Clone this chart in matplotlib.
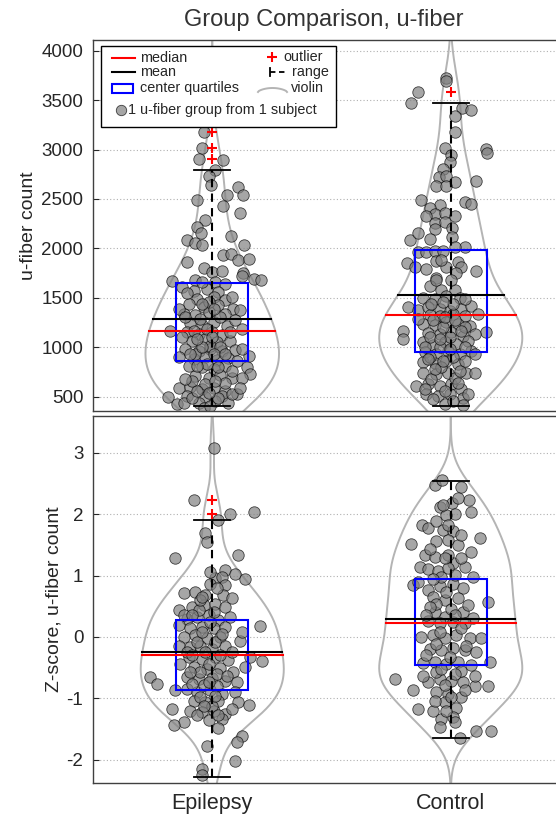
import numpy as np
import matplotlib.pyplot as plt
from matplotlib.patches import Rectangle
from matplotlib.lines import Line2D

plt.rcParams['font.family'] = ['Liberation Sans', 'DejaVu Sans']
plt.rcParams['axes.unicode_minus'] = False

groups = ['Epilepsy', 'Control']

# u-fiber counts, one value per subject, with the horizontal jitter seen in the plot
count_epilepsy = [3179, 3019, 2900, 2893, 2798, 2731, 2646, 2622, 2544, 2544, 2493, 2425, 2357, 2290,
                  2215, 2154, 2127, 2086, 2052, 2035, 2035, 1933, 1944, 1865, 1882, 1889, 1798, 1764,
                  1774, 1747, 1672, 1679, 1662, 1645, 1696, 1679, 1720, 1611, 1570, 1594, 1560, 1492,
                  1509, 1475, 1441, 1407, 1424, 1390, 1339, 1323, 1356, 1339, 1373, 1244, 1231, 1255,
                  1221, 1170, 1153, 1136, 1153, 1129, 1187, 1068, 1085, 1051, 1068, 983, 966, 983, 959,
                  973, 915, 881, 898, 871, 891, 814, 797, 780, 814, 797, 729, 712, 695, 722, 695, 593,
                  600, 576, 593, 559, 525, 508, 498, 508, 498, 430, 440, 457, 389, 440, 1289, 1306, 1390,
                  1458, 1509, 1550, 1662, 1187, 1153, 1102, 1017, 932, 1000, 983, 898, 831, 864, 661,
                  644, 695, 627, 1306, 1390, 1272, 1170,
                  440, 491, 406, 491, 525, 593, 559, 542, 678, 661, 763, 814, 797, 932, 932, 1000, 932,
                  1085, 1102, 1441]
count_epilepsy_jitter = [-0.036, -0.043, -0.054, 0.047, 0.013, -0.015, -0.004, 0.11, 0.13, 0.06, -0.064,
                         0.043, 0.117, -0.03, -0.064, -0.046, 0.08, -0.106, -0.074, -0.043, 0.135, 0.047,
                         0.08, -0.106, 0.11, 0.152, -0.036, 0.0, 0.04, 0.127, -0.169, -0.071, 0.013, 0.052,
                         0.173, 0.205, 0.124, -0.127, -0.078, -0.022, 0.026, -0.064, 0.006, 0.054, -0.099,
                         -0.036, 0.026, 0.089, -0.12, -0.071, -0.015, 0.054, 0.117, -0.092, -0.043, 0.006,
                         0.061, -0.176, -0.106, -0.057, -0.001, 0.04, 0.124, -0.085, -0.029, 0.02, 0.075,
                         -0.113, -0.057, -0.008, 0.04, 0.096, 0.152, -0.078, -0.029, 0.02, 0.068, -0.099,
                         -0.043, 0.006, 0.054, 0.145, 0.159, -0.071, -0.015, 0.033, 0.082, -0.141, -0.092,
                         -0.043, 0.006, 0.054, 0.103, -0.106, -0.029, 0.04, -0.185, -0.148, -0.057, 0.013,
                         -0.036, 0.068, -0.05, 0.033, -0.141, -0.015, 0.082, -0.106, -0.043, -0.022, 0.075,
                         -0.127, -0.008, -0.071, 0.033, 0.124, -0.141, -0.022, 0.103, -0.085, 0.054, 0.124,
                         -0.029, -0.113, 0.006, 0.096, -0.078,
                         -0.12, -0.085, -0.008, 0.026, 0.082, 0.117, -0.064, -0.015, -0.113, 0.013, 0.082,
                         -0.064, 0.026, -0.092, 0.006, -0.043, 0.054, -0.064, -0.001, -0.043]

count_control = [3722, 3688, 3579, 3471, 3416, 3399, 3335, 3179, 3002, 2968, 3019, 2941, 2873, 2806, 2724,
                 2731, 2670, 2680, 2629, 2629, 2487, 2466, 2453, 2442, 2409, 2351, 2358, 2324, 2324, 2256,
                 2263, 2205, 2195, 2113, 2086, 2154, 2018, 2012, 1967, 1967, 1978, 1978, 1855, 1808, 1876,
                 1788, 1815, 1866, 1815, 1747, 1774, 1706, 1618, 1584, 1584, 1503, 1492, 1516, 1503, 1408,
                 1380, 1408, 1391, 1367, 1391, 1421, 1323, 1313, 1333, 1320, 1333, 1238, 1231, 1255, 1238,
                 1221, 1170, 1085, 1153, 1143, 1136, 1153, 1119, 1136, 1051, 1027, 1051, 1034, 1061, 949,
                 932, 960, 932, 966, 848, 838, 858, 831, 746, 746, 746, 729, 746, 610, 627, 610, 634, 576,
                 525, 508, 532, 491, 424, 417, 1442, 1442, 1204, 1204, 1102, 1102, 1000, 1000, 898, 898,
                 797, 695, 678, 1306, 1289, 1679, 1679, 1883, 2093,
                 475, 457, 576, 559, 644, 780, 763, 882, 865, 865, 983, 1000, 1085, 1170, 1272, 1272,
                 1459, 1492, 932, 525]
count_control_jitter = [-0.018, -0.018, -0.137, -0.165, 0.047, 0.086, 0.017, 0.017, 0.149, 0.153, -0.025,
                        0.003, -0.004, -0.032, -0.05, -0.018, 0.017, 0.107, -0.06, -0.018, -0.126, 0.059,
                        0.086, -0.046, -0.088, -0.067, -0.025, 0.017, -0.102, -0.067, -0.025, 0.006, -0.067,
                        0.006, -0.172, -0.139, 0.059, 0.019, -0.137, -0.102, -0.067, -0.032, -0.185, -0.151,
                        -0.06, -0.102, -0.018, 0.031, 0.045, 0.024, 0.107, -0.06, -0.088, -0.039, 0.017,
                        -0.116, -0.067, -0.018, 0.038, -0.179, -0.137, -0.095, -0.046, -0.004, 0.045, 0.086,
                        -0.088, -0.046, 0.01, 0.059, 0.114, -0.116, -0.067, -0.018, 0.031, 0.08, -0.199,
                        -0.199, 0.149, -0.095, -0.046, 0.003, 0.052, 0.1, -0.116, -0.074, -0.025, 0.024,
                        0.073, -0.109, -0.06, -0.011, 0.038, 0.086, -0.116, -0.067, -0.018, 0.031, 0.066,
                        0.1, -0.116, -0.06, -0.011, -0.144, -0.095, -0.046, 0.003, 0.045, -0.102, -0.053,
                        -0.004, 0.052, -0.025, 0.052, -0.081, 0.01, -0.032, 0.059, -0.088, -0.004, -0.046,
                        0.059, -0.088, 0.01, -0.039, 0.017, -0.081, -0.025, -0.137, -0.06, 0.003, -0.039,
                        -0.088,
                        -0.074, 0.01, -0.109, -0.025, 0.031, -0.067, 0.038, -0.095, -0.032, 0.059, -0.004,
                        -0.109, -0.046, 0.045, -0.074, 0.017, -0.032, 0.059, 0.1, 0.073]

# z-scores of the u-fiber count
z_epilepsy = [3.08, 2.23, 2.01, 2.03, 1.91, 1.70, 1.54, 1.28, 1.33, 1.09, 1.03, 0.95, 0.96, 0.98, 0.87,
              0.84, 0.71, 0.73, 0.68, 0.68, 0.44, 0.49, 0.52, 0.54, 0.49, 0.63, 0.33, 0.18, 0.30, 0.33,
              0.35, 0.27, 0.19, 0.14, 0.16, 0.14, 0.16, 0.00, 0.03, -0.02, 0.00, -0.06, -0.14, -0.16,
              -0.14, -0.19, -0.14, -0.33, -0.40, -0.33, -0.36, -0.33, -0.38, -0.49, -0.49, -0.52, -0.51,
              -0.57, -0.66, -0.76, -0.66, -0.68, -0.67, -0.71, -0.74, -0.87, -0.85, -0.90, -0.87, -0.93,
              -0.90, -1.04, -1.06, -1.04, -1.06, -1.11, -1.17, -1.20, -1.23, -1.20, -1.25, -1.38, -1.43,
              -1.35, -1.34, -1.49, -1.61, -1.71, -1.77, -2.02, -2.16, -2.25, 0.44, 0.24, 0.35, -0.08,
              -0.08, -0.25, -0.25, -0.44, -0.57, -0.60, -0.79, -0.80, -0.98, -1.12, -1.28, -1.17, 0.79,
              0.60, -0.25, 0.08,
              0.35, 0.41, 0.08, 0.05, -0.30, -0.30, -0.44, -0.57, -0.63, -0.74, -0.76, -0.96, -1.12,
              -1.28, 0.65, 1.06]
z_epilepsy_jitter = [0.006, -0.078, 0.075, 0.173, 0.026, -0.032, -0.022, -0.155, 0.11, 0.054, 0.096,
                     0.138, 0.013, 0.04, -0.008, 0.054, -0.12, -0.071, -0.029, 0.047, -0.141, -0.085,
                     -0.036, 0.013, 0.054, 0.082, 0.075, 0.2, -0.106, -0.064, -0.015, 0.026, -0.141,
                     -0.092, -0.043, 0.006, 0.054, -0.12, -0.071, -0.022, 0.033, 0.117, -0.141, -0.092,
                     -0.05, -0.001, 0.054, 0.159, 0.209, -0.099, -0.043, 0.013, 0.068, 0.138, -0.078,
                     -0.022, 0.033, 0.089, -0.259, -0.232, -0.106, -0.057, -0.001, 0.054, 0.103, -0.155,
                     -0.106, -0.064, -0.008, 0.04, 0.096, -0.078, -0.029, 0.026, 0.11, 0.152, -0.169,
                     -0.092, -0.043, 0.006, 0.054, -0.12, -0.162, -0.015, 0.04, 0.026, 0.124, 0.103,
                     -0.022, 0.096, -0.043, -0.043, -0.057, -0.008, -0.12, -0.064, 0.013, -0.029, 0.082,
                     -0.134, -0.05, 0.02, -0.036, 0.02, -0.05, -0.001, -0.064, 0.082, 0.02, -0.05,
                     -0.106, 0.124,
                     -0.085, 0.006, -0.043, 0.04, -0.085, 0.033, -0.015, -0.092, 0.061, -0.015, -0.085,
                     0.013, -0.036, 0.026, -0.043, -0.008]

z_control = [2.47, 2.56, 2.45, 2.19, 2.23, 2.04, 2.11, 2.01, 1.99, 1.82, 1.77, 1.89, 1.74, 1.72, 1.61,
             1.52, 1.56, 1.58, 1.50, 1.39, 1.34, 1.31, 1.20, 1.14, 1.14, 1.11, 1.07, 1.12, 0.98, 0.85,
             0.90, 0.76, 0.83, 0.87, 0.79, 0.65, 0.60, 0.63, 0.57, 0.41, 0.33, 0.41, 0.31, 0.26, 0.22,
             0.24, 0.22, 0.00, 0.03, -0.02, 0.03, -0.02, -0.02, -0.19, -0.22, -0.18, -0.22, -0.25,
             -0.42, -0.41, -0.44, -0.41, -0.45, -0.41, -0.69, -0.86, -0.74, -0.68, -0.71, -0.74, -0.80,
             -0.80, -0.90, -0.93, -0.98, -1.18, -1.20, -1.06, -1.15, -1.34, -1.31, -1.38, -1.53, -1.54,
             -1.65, 0.54, 0.46, 0.14, -0.11, -0.33, -0.55, -0.57, -0.79, -0.87, -1.20, 0.49, 0.52,
             1.33, 2.26, 0.98, -0.63, -0.63,
             2.15, 1.82, 1.66, 1.44, 1.28, 1.28, 0.95, 1.01, 0.73, 0.35, 0.35, 0.08, -0.14, -0.30,
             -0.52, -0.60, -1.04, -0.98, -1.47]
z_control_jitter = [-0.067, -0.036, 0.045, 0.006, 0.075, 0.086, -0.046, 0.017, -0.018, -0.12, -0.095,
                    -0.06, -0.032, 0.01, 0.121, -0.165, -0.06, -0.011, 0.031, 0.086, -0.109, -0.067, 0.01,
                    0.059, -0.13, -0.095, -0.053, -0.011, 0.093, -0.158, -0.137, -0.095, -0.046, 0.01,
                    0.052, -0.074, -0.025, 0.031, 0.156, -0.067, -0.025, 0.052, 0.093, -0.095, -0.046,
                    0.01, 0.059, -0.123, -0.074, -0.025, 0.024, 0.079, 0.128, -0.088, -0.039, 0.01, 0.059,
                    0.107, -0.116, -0.067, -0.018, 0.031, 0.086, 0.163, -0.232, -0.158, -0.095, -0.046,
                    0.003, 0.052, 0.1, 0.156, -0.06, -0.011, 0.045, -0.137, -0.074, -0.025, 0.024, -0.039,
                    0.01, 0.017, 0.107, 0.17, 0.038, -0.06, 0.003, 0.045, -0.06, -0.004, 0.045, -0.06,
                    -0.025, 0.059, -0.018, -0.088, 0.073, -0.011, 0.031, -0.039, -0.116, 0.1,
                    -0.032, -0.011, 0.045, -0.088, -0.025, 0.045, -0.074, 0.017, -0.018, -0.102, 0.017,
                    -0.046, 0.066, -0.102, -0.039, 0.017, -0.067, 0.003, -0.046]

# summary values (Epilepsy, Control)
count_median = [1170, 1330]
count_mean = [1289, 1526]
count_q1 = [864, 949]
count_q3 = [1652, 1984]
count_range_lo = [406, 406]
count_range_hi = [2789, 3467]
count_outliers = [[3178, 3020, 2900], [3580]]

z_median = [-0.30, 0.23]
z_mean = [-0.25, 0.30]
z_q1 = [-0.86, -0.45]
z_q3 = [0.27, 0.95]
z_range_lo = [-2.28, -1.65]
z_range_hi = [1.90, 2.54]
z_outliers = [[2.23, 2.01], []]

W, H = 556, 816
VIOLIN_C = '#b4b4b4'
DOT_C = '#808080'
TXT_C = '#262626'


def fx(x):
    return x / W


def fy(y):
    return 1 - y / H


def kde(vals, grid, bw):
    d = (grid[:, None] - np.asarray(vals)[None, :]) / bw
    return np.exp(-0.5 * d ** 2).sum(axis=1)


def draw_panel(ax, ys, jit, med, mean, q1, q3, lo, hi, outl, bw, vwidth, ylim):
    grid = np.linspace(ylim[0], ylim[1], 800)
    for i in range(2):
        x0 = i + 1
        vals = np.asarray(ys[i])
        dens = kde(vals, grid, bw[i])
        half = dens / dens.max() * vwidth[i]
        ax.plot(x0 - half, grid, color=VIOLIN_C, lw=1.4, zorder=1)
        ax.plot(x0 + half, grid, color=VIOLIN_C, lw=1.4, zorder=1)
        ax.scatter(x0 + np.asarray(jit[i]), vals, s=68, c=DOT_C, alpha=0.7,
                   edgecolors='black', linewidths=0.6, zorder=2)
        ax.add_patch(Rectangle((x0 - 0.15, q1[i]), 0.3, q3[i] - q1[i], fill=False,
                               ec='#0000ff', lw=1.5, zorder=3))
        wmed = np.interp(med[i], grid, half)
        wmean = np.interp(mean[i], grid, half)
        ax.plot([x0 - wmean, x0 + wmean], [mean[i]] * 2, color='black', lw=1.5, zorder=4)
        ax.plot([x0 - wmed, x0 + wmed], [med[i]] * 2, color='#ff0000', lw=1.5, zorder=4)
        ax.plot([x0, x0], [lo[i], hi[i]], color='black', lw=1.5, ls=(0, (4, 3)), zorder=4)
        for v in (lo[i], hi[i]):
            ax.plot([x0 - 0.075, x0 + 0.075], [v, v], color='black', lw=1.3, zorder=4)
        if outl[i]:
            ax.plot([x0] * len(outl[i]), outl[i], '+', color='#ff0000', ms=7, mew=1.5, zorder=5)
    ax.set_xlim(0.5, 2.5)
    ax.set_ylim(*ylim)
    ax.yaxis.grid(True, ls=(0, (1, 2)), color='#b0b0b0', lw=0.8)
    ax.set_axisbelow(True)
    for s in ax.spines.values():
        s.set_color('#404040')
        s.set_linewidth(1.0)
    ax.tick_params(axis='y', labelsize=13.5, direction='in', length=4, pad=7, colors=TXT_C)


fig = plt.figure(figsize=(W / 100, H / 100), dpi=100)
ax_top = fig.add_axes([fx(93), fy(411), fx(570) - fx(93), (411 - 40) / H])
ax_bot = fig.add_axes([fx(93), fy(783), fx(570) - fx(93), (783 - 416) / H])

draw_panel(ax_top, [count_epilepsy, count_control], [count_epilepsy_jitter, count_control_jitter],
           count_median, count_mean, count_q1, count_q3, count_range_lo, count_range_hi,
           count_outliers, bw=[260, 260], vwidth=[0.28, 0.30], ylim=(357, 4107))
draw_panel(ax_bot, [z_epilepsy, z_control], [z_epilepsy_jitter, z_control_jitter],
           z_median, z_mean, z_q1, z_q3, z_range_lo, z_range_hi,
           z_outliers, bw=[0.32, 0.32], vwidth=[0.30, 0.30], ylim=(-2.38, 3.60))

ax_top.set_yticks(np.arange(500, 4001, 500))
ax_top.set_xticks([])
ax_bot.set_yticks(np.arange(-2, 4, 1))
ax_bot.set_xticks([1, 2])
ax_bot.set_xticklabels(groups)
ax_bot.tick_params(axis='x', labelsize=15.5, length=0, pad=7, colors=TXT_C)

ax_top.set_ylabel('u-fiber count', fontsize=14, color=TXT_C, labelpad=3)
ax_bot.set_ylabel('Z-score, u-fiber count', fontsize=14, color=TXT_C, labelpad=3)

fig.text(fx(324), fy(20), 'Group Comparison, u-fiber', ha='center', va='center',
         fontsize=17, color='#333333')

# legend, drawn by hand to keep the two-column layout with a full-width last row
tr = fig.transFigure
fig.add_artist(Rectangle((fx(101), fy(127)), fx(336) - fx(101), (127 - 46) / H, transform=tr,
                         fc='white', ec='black', lw=1, zorder=10))
leg_fs = 10.4
fig.add_artist(Line2D([fx(112), fx(135)], [fy(58)] * 2, color='#ff0000', lw=1.5, transform=tr, zorder=11))
fig.text(fx(140), fy(58), 'median', va='center', fontsize=leg_fs, color=TXT_C, zorder=11)
fig.add_artist(Line2D([fx(112), fx(135)], [fy(72)] * 2, color='black', lw=1.5, transform=tr, zorder=11))
fig.text(fx(140), fy(72), 'mean', va='center', fontsize=leg_fs, color=TXT_C, zorder=11)
fig.add_artist(Rectangle((fx(112), fy(93)), fx(133) - fx(112), 9 / H, transform=tr, fill=False,
                         ec='#0000ff', lw=1.5, zorder=11))
fig.text(fx(140), fy(88), 'center quartiles', va='center', fontsize=leg_fs, color=TXT_C, zorder=11)
fig.add_artist(Line2D([fx(121)], [fy(110)], marker='o', ms=7.5, mfc=DOT_C, mec='black', mew=0.6,
                      alpha=0.7, ls='none', transform=tr, zorder=11))
fig.text(fx(128), fy(110), '1 u-fiber group from 1 subject', va='center', fontsize=leg_fs,
         color=TXT_C, zorder=11)
fig.add_artist(Line2D([fx(272)], [fy(57)], marker='+', ms=7, mew=1.5, color='#ff0000', ls='none',
                      transform=tr, zorder=11))
fig.text(fx(283), fy(57), 'outlier', va='center', fontsize=leg_fs, color=TXT_C, zorder=11)
fig.add_artist(Line2D([fx(270), fx(270)], [fy(68), fy(76)], color='black', lw=1.3, transform=tr, zorder=11))
fig.add_artist(Line2D([fx(270), fx(288)], [fy(72)] * 2, color='black', lw=1.3, ls=(0, (3, 2)),
                      transform=tr, zorder=11))
fig.text(fx(292), fy(72), 'range', va='center', fontsize=leg_fs, color=TXT_C, zorder=11)
t = np.linspace(0, 1, 40)
fig.add_artist(Line2D(fx(258) + t * (fx(287) - fx(258)), fy(92) + (4 / H) * np.sin(np.pi * t) ** 0.6,
                      color=VIOLIN_C, lw=1.4, transform=tr, zorder=11))
fig.text(fx(291), fy(88), 'violin', va='center', fontsize=leg_fs, color=TXT_C, zorder=11)

fig.savefig('out.png', dpi=100)
